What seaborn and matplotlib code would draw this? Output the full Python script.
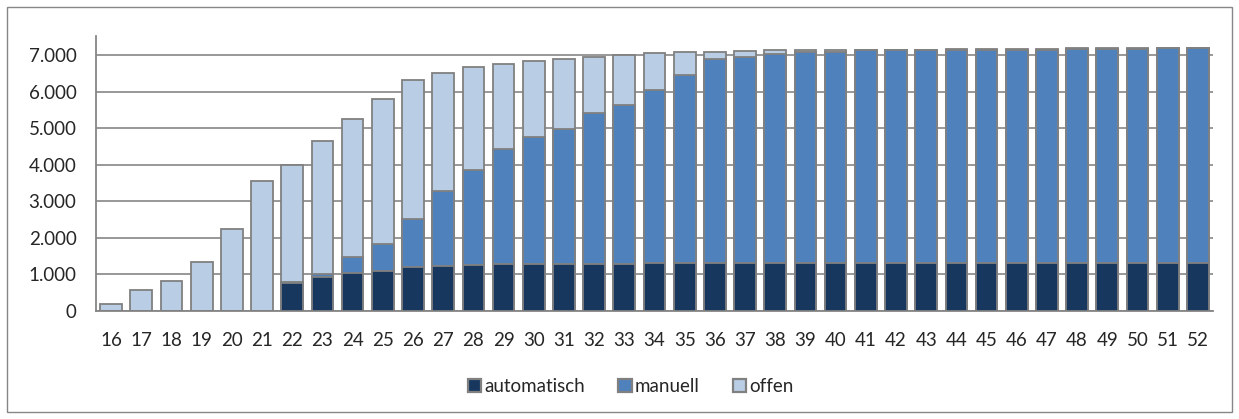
import numpy as np
import pandas as pd
import matplotlib
matplotlib.use("Agg")
import matplotlib.pyplot as plt
import matplotlib.ticker as mticker
from matplotlib.patches import Rectangle, Patch
import seaborn as sns

# Kalenderwochen
weeks = [str(w) for w in range(16, 53)]

automatisch = [0, 0, 0, 0, 0, 0, 750, 920, 1025, 1095, 1205, 1225, 1250, 1270,
               1275, 1285, 1290, 1295, 1300, 1305, 1310, 1310, 1310, 1310, 1310,
               1310, 1310, 1315, 1315, 1315, 1315, 1315, 1320, 1320, 1320, 1320, 1320]
manuell = [0, 0, 0, 0, 0, 0, 50, 85, 455, 735, 1305, 2055, 2605, 3170,
           3495, 3695, 4120, 4340, 4745, 5145, 5580, 5650, 5720, 5760, 5780,
           5820, 5825, 5820, 5825, 5825, 5830, 5835, 5850, 5855, 5855, 5860, 5860]
offen = [180, 565, 820, 1335, 2245, 3550, 3190, 3655, 3780, 3960, 3810, 3225, 2805, 2310,
         2070, 1925, 1540, 1365, 1005, 630, 205, 155, 105, 70, 60,
         20, 15, 15, 15, 15, 15, 15, 15, 15, 15, 15, 15]

c_auto = "#17375E"
c_man = "#4F81BD"
c_off = "#B9CDE5"
edge = "#808080"

df = pd.DataFrame({"KW": weeks, "automatisch": automatisch,
                   "manuell": manuell, "offen": offen})
df["auto_man"] = df["automatisch"] + df["manuell"]
df["gesamt"] = df["auto_man"] + df["offen"]

sns.set_style("white")
plt.rcParams["font.family"] = ["Lato", "DejaVu Sans"]

fig = plt.figure(figsize=(12.39, 4.19), dpi=100)
ax = fig.add_axes([0.0775, 0.258, 0.9015, 0.656])

# gestapelt durch Ueberlagerung
for col, color in [("gesamt", c_off), ("auto_man", c_man), ("automatisch", c_auto)]:
    sns.barplot(data=df, x="KW", y=col, color=color, width=0.72,
                edgecolor=edge, linewidth=1.3, ax=ax, saturation=1, zorder=3)

ax.set_xlim(-0.5, len(weeks) - 0.5)
ax.set_ylim(0, 7520)
ax.set_yticks(range(0, 8000, 1000))
ax.yaxis.set_major_formatter(mticker.FuncFormatter(lambda v, p: f"{int(v):,}".replace(",", ".")))
ax.grid(axis="y", color="#868686", linewidth=1.2, zorder=0)
ax.set_axisbelow(True)

ax.set_xlabel("")
ax.set_ylabel("")
for s in ["top", "right"]:
    ax.spines[s].set_visible(False)
for s in ["left", "bottom"]:
    ax.spines[s].set_color("#868686")
    ax.spines[s].set_linewidth(1.3)

ax.tick_params(axis="y", length=5, color="#868686", width=1.3, labelsize=13.5, pad=9)
ax.tick_params(axis="x", which="major", length=0, labelsize=13.5, pad=15)
ax.set_xticks(np.arange(-0.5, len(weeks)), minor=True)
ax.tick_params(axis="x", which="minor", length=4, color="#868686", width=1.3)

handles = [Patch(facecolor=c, edgecolor=edge, linewidth=1.6) for c in (c_auto, c_man, c_off)]
fig.legend(handles, ["automatisch", "manuell", "offen"], loc="center",
           bbox_to_anchor=(0.509, 0.077), ncol=3, frameon=False, fontsize=13.5,
           handlelength=0.7, handleheight=0.7, handletextpad=0.15, columnspacing=1.8)

fig.patches.append(Rectangle((7 / 1239, 7 / 419), 1225 / 1239, 405 / 419,
                             transform=fig.transFigure, fill=False,
                             edgecolor="#868686", linewidth=1))

fig.savefig("out.png", dpi=100)
